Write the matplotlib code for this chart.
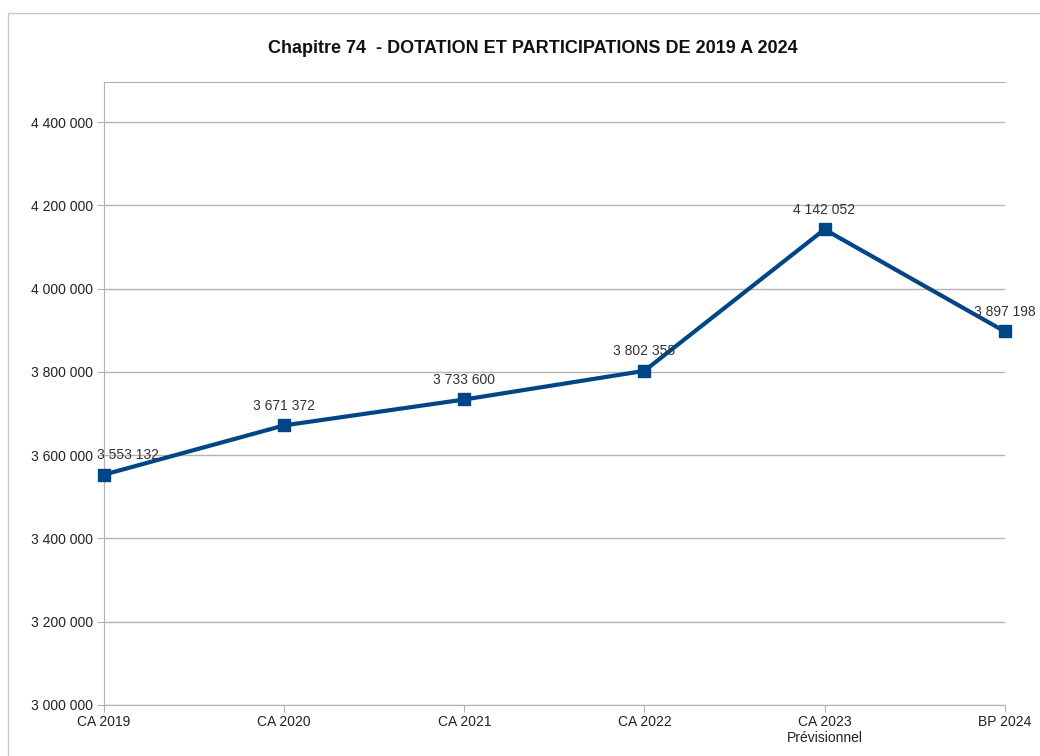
import matplotlib
matplotlib.use("Agg")
from matplotlib import pyplot as plt
from matplotlib.patches import Rectangle

categories = ["CA 2019", "CA 2020", "CA 2021", "CA 2022", "CA 2023\nPrévisionnel", "BP 2024"]
values = [3553132, 3671372, 3733600, 3802358, 4142052, 3897198]
y_ticks = [3000000, 3200000, 3400000, 3600000, 3800000, 4000000, 4200000, 4400000]

title = "Chapitre 74  - DOTATION ET PARTICIPATIONS DE 2019 A 2024"


def fmt(v):
    return f"{v:,}".replace(",", " ")


plt.rcParams['font.family'] = ['Liberation Sans', 'DejaVu Sans']

fig = plt.figure(figsize=(10.4, 7.56), dpi=100)
ax = fig.add_axes([0.1, 0.0675, 0.866, 0.824])

# outer frame of the chart
fig.patches.append(Rectangle((8 / 1040, -0.1), 1.2, (756 - 13) / 756 + 0.1,
                             transform=fig.transFigure, fill=False,
                             edgecolor="#c8c8c8", linewidth=1.0))

x = list(range(len(categories)))
ax.plot(x, values, color="#004586", linewidth=3.0, marker="s", markersize=8,
        zorder=3, clip_on=False)

for i, (xi, v) in enumerate(zip(x, values)):
    # first label nudged right so it does not sit on the y tick label
    dx = 17 if i == 0 else 0
    ax.annotate(fmt(v), (xi, v), xytext=(dx, 9), textcoords="offset points",
                ha="center", va="bottom", fontsize=10, color="#333333")

ax.set_xlim(0, len(categories) - 1)
ax.set_ylim(3000000, 4496000)
ax.set_yticks(y_ticks)
ax.set_yticklabels([fmt(t) for t in y_ticks])
ax.set_xticks(x)
ax.set_xticklabels(categories)

ax.grid(axis="y", color="#b3b3b3", linewidth=1.0)
ax.set_axisbelow(True)
for side in ["left", "top", "bottom"]:
    ax.spines[side].set_color("#b3b3b3")
ax.spines["right"].set_visible(False)
ax.tick_params(axis="both", colors="#b3b3b3", labelcolor="#222222",
               labelsize=10, length=5)
ax.tick_params(axis="y", pad=3)
ax.tick_params(axis="x", pad=2)

fig.text(0.512, 0.936, title, ha="center", va="center", fontsize=13,
         fontweight="bold", color="#111111")

plt.savefig("out.png", dpi=100)
